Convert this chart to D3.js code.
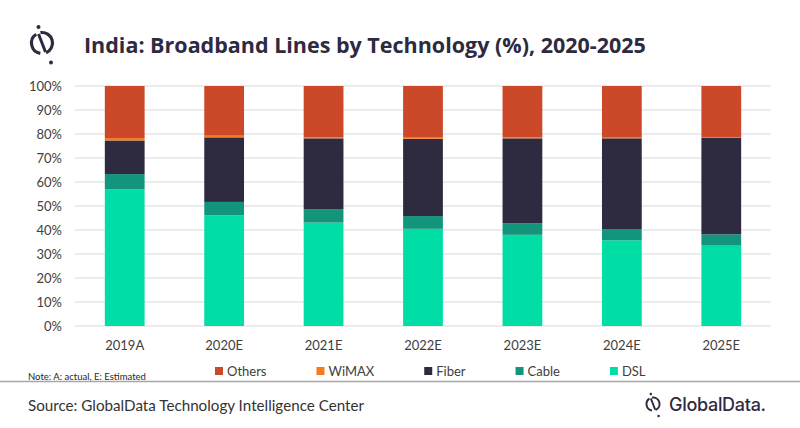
<!DOCTYPE html>
<html>
<head>
<meta charset="utf-8">
<script src="https://cdn.jsdelivr.net/npm/d3@7"></script>
<style>
  body { margin: 0; background: #fff; }
  svg { display: block; }
</style>
</head>
<body>
<svg id="chart" width="800" height="428"></svg>
<script>
// data (%)
const years = ["2019A", "2020E", "2021E", "2022E", "2023E", "2024E", "2025E"];
const dsl    = [57.0, 46.1, 43.1, 40.5, 38.0, 35.7, 33.5];
const cable  = [6.3, 5.6, 5.6, 5.3, 4.8, 4.7, 4.7];
const fiber  = [14.0, 26.9, 29.5, 32.2, 35.4, 37.8, 40.3];
const wimax  = [1.0, 0.7, 0.4, 0.5, 0.4, 0.3, 0.2];
const others = [21.7, 20.7, 21.4, 21.5, 21.4, 21.5, 21.3];
const yTicks = [0, 10, 20, 30, 40, 50, 60, 70, 80, 90, 100];

const seriesKeys = ["DSL", "Cable", "Fiber", "WiMAX", "Others"];
const legendKeys = ["Others", "WiMAX", "Fiber", "Cable", "DSL"];
const colors = {
  DSL: "#00dea6",
  Cable: "#12957a",
  Fiber: "#2e2a3f",
  WiMAX: "#f47c20",
  Others: "#cb4829"
};

let table = years.map((y, i) => ({
  year: y, DSL: dsl[i], Cable: cable[i], Fiber: fiber[i], WiMAX: wimax[i], Others: others[i]
}));

let svg = d3.select("#chart");
let textFont = "Lato, 'Open Sans', sans-serif";

let x = d3.scaleBand().domain(years).range([75, 771]).paddingInner(0.6).paddingOuter(0.3);
let y = d3.scaleLinear().domain([0, 100]).range([326, 86]);

// gridlines
svg.append("g")
  .selectAll("line")
  .data(yTicks)
  .enter().append("line")
    .attr("x1", 75).attr("x2", 771)
    .attr("y1", d => y(d)).attr("y2", d => y(d))
    .attr("stroke", "#d9d9d9").attr("stroke-width", 1);

// y axis labels
let yAxis = d3.axisLeft(y).tickValues(yTicks).tickFormat(d => d + "%").tickSize(0).tickPadding(0);
svg.append("g")
  .attr("transform", "translate(62,0)")
  .call(yAxis)
  .call(g => g.select(".domain").remove())
  .selectAll("text")
    .attr("font-family", textFont).attr("font-size", 13).attr("fill", "#404040");

// stacked bars
let stacked = d3.stack().keys(seriesKeys)(table);
svg.append("g")
  .selectAll("g")
  .data(stacked)
  .enter().append("g")
    .attr("fill", d => colors[d.key])
  .selectAll("rect")
  .data(d => d)
  .enter().append("rect")
    .attr("x", d => x(d.data.year))
    .attr("width", x.bandwidth())
    .attr("y", d => y(d[1]))
    .attr("height", d => y(d[0]) - y(d[1]));

// x axis labels
let xAxis = d3.axisBottom(x).tickSize(0).tickPadding(0);
svg.append("g")
  .attr("transform", "translate(0,341)")
  .call(xAxis)
  .call(g => g.select(".domain").remove())
  .selectAll("text")
    .attr("font-family", textFont).attr("font-size", 13).attr("fill", "#404040");

// title
svg.append("text")
  .attr("x", 84).attr("y", 53)
  .attr("font-family", "'Open Sans', sans-serif").attr("font-weight", 700)
  .attr("font-size", 21.5).attr("fill", "#2e2a3f")
  .text("India: Broadband Lines by Technology (%), 2020-2025");

// logo mark
function drawMark(g, s) {
  g.append("path")
    .attr("d", d3.arc().innerRadius(10.5 * s).outerRadius(10.5 * s)
      .startAngle(-0.15).endAngle(2.75)())
    .attr("fill", "none").attr("stroke", "#2e2a3f").attr("stroke-width", 3.2 * s);
  g.append("path")
    .attr("d", d3.arc().innerRadius(10.5 * s).outerRadius(10.5 * s)
      .startAngle(3.3).endAngle(5.7)())
    .attr("fill", "none").attr("stroke", "#2e2a3f").attr("stroke-width", 3.2 * s);
  g.append("line")
    .attr("x1", -3.5 * s).attr("y1", -9 * s).attr("x2", 3.5 * s).attr("y2", 9 * s)
    .attr("stroke", "#2e2a3f").attr("stroke-width", 3 * s);
  g.append("circle").attr("cx", -3.5 * s).attr("cy", -16 * s).attr("r", 2 * s).attr("fill", "#2e2a3f");
  g.append("circle").attr("cx", 9 * s).attr("cy", 19.5 * s).attr("r", 2 * s).attr("fill", "#2e2a3f");
}
drawMark(svg.append("g").attr("transform", "translate(42,43)"), 1);

// legend
let legend = svg.append("g").attr("transform", "translate(215,371)");
let lx = 0;
legendKeys.forEach(k => {
  let item = legend.append("g").attr("transform", `translate(${lx},0)`);
  item.append("rect").attr("x", 0).attr("y", -4).attr("width", 8).attr("height", 8).attr("fill", colors[k]);
  let t = item.append("text")
    .attr("x", 12).attr("y", 4.5)
    .attr("font-family", textFont).attr("font-size", 13).attr("fill", "#404040")
    .text(k);
  lx += 12 + t.node().getComputedTextLength() + 50;
});

// note
svg.append("text")
  .attr("x", 28).attr("y", 380)
  .attr("font-family", textFont).attr("font-size", 9.5).attr("fill", "#262626")
  .text("Note: A: actual, E: Estimated");

// separator
svg.append("line")
  .attr("x1", 0).attr("x2", 800).attr("y1", 381.5).attr("y2", 381.5)
  .attr("stroke", "#a6a6a6").attr("stroke-width", 1.3);

// source
svg.append("text")
  .attr("x", 28).attr("y", 411)
  .attr("font-family", textFont).attr("font-size", 15.2).attr("fill", "#333")
  .text("Source: GlobalData Technology Intelligence Center");

// footer logo
drawMark(svg.append("g").attr("transform", "translate(653,404)"), 0.62);
svg.append("text")
  .attr("x", 669).attr("y", 411)
  .attr("font-family", "Inter, 'Open Sans', sans-serif").attr("font-weight", 500)
  .attr("font-size", 18).attr("letter-spacing", -0.3).attr("fill", "#2e2a3f")
  .text("GlobalData.");
</script>
</body>
</html>
